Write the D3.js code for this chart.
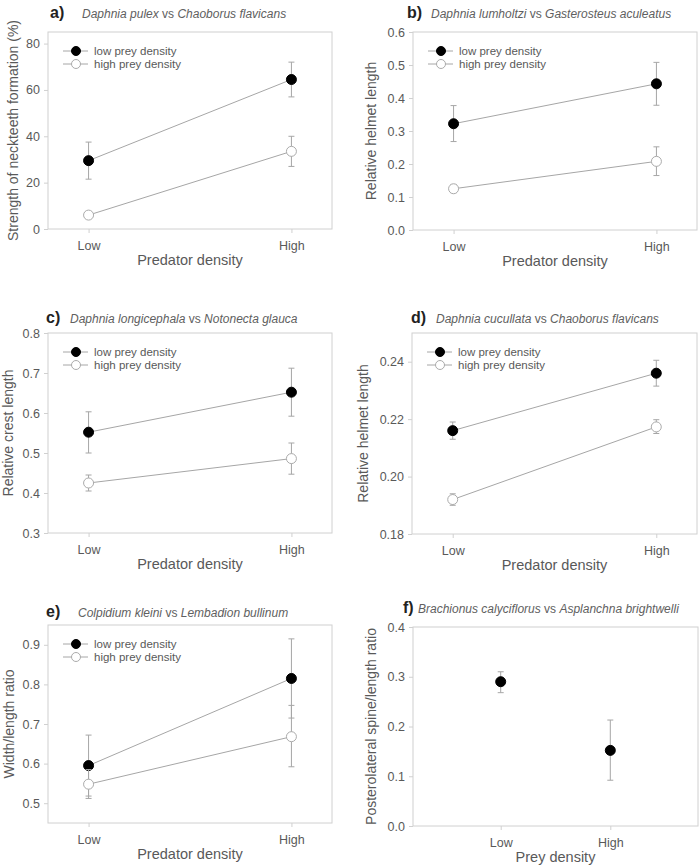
<!DOCTYPE html>
<html>
<head>
<meta charset="utf-8">
<script src="https://cdn.jsdelivr.net/npm/d3@7"></script>
<style>
  body { margin: 0; background: #fff; }
  text { font-family: "Liberation Sans", Arial, sans-serif; }
</style>
</head>
<body>
<script>
// panel data
var panelTags = ["a)", "b)", "c)", "d)", "e)", "f)"];
var preySpecies = ["Daphnia pulex", "Daphnia lumholtzi", "Daphnia longicephala", "Daphnia cucullata", "Colpidium kleini", "Brachionus calyciflorus"];
var predatorSpecies = ["Chaoborus flavicans", "Gasterosteus aculeatus", "Notonecta glauca", "Chaoborus flavicans", "Lembadion bullinum", "Asplanchna brightwelli"];
var yTitles = ["Strength of neckteeth formation (%)", "Relative helmet length", "Relative crest length", "Relative helmet length", "Width/length ratio", "Posterolateral spine/length ratio"];
var xTitles = ["Predator density", "Predator density", "Predator density", "Predator density", "Predator density", "Prey density"];
var categories = ["Low", "High"];
var seriesNames = ["low prey density", "high prey density"];

var lowPreyMean  = [[29.5, 64.5], [0.322, 0.443], [0.552, 0.652], [0.216, 0.236], [0.595, 0.815], [0.290, 0.152]];
var lowPreyLo    = [[21.5, 57.0], [0.268, 0.378], [0.500, 0.592], [0.213, 0.2315], [0.518, 0.715], [0.268, 0.092]];
var lowPreyHi    = [[37.5, 72.0], [0.377, 0.508], [0.603, 0.712], [0.219, 0.2405], [0.672, 0.915], [0.310, 0.213]];
var highPreyMean = [[6.0, 33.5], [0.125, 0.208], [0.425, 0.486], [0.192, 0.2173], [0.548, 0.668], null];
var highPreyLo   = [[5.0, 27.0], [0.113, 0.165], [0.405, 0.447], [0.190, 0.215], [0.512, 0.592], null];
var highPreyHi   = [[7.5, 40.0], [0.138, 0.252], [0.445, 0.525], [0.194, 0.2198], [0.585, 0.747], null];

var yDomains = [[0, 85], [0, 0.6], [0.3, 0.8], [0.18, 0.25], [0.45, 0.95], [0, 0.4]];
var yTicks = [[0, 20, 40, 60, 80], [0, 0.1, 0.2, 0.3, 0.4, 0.5, 0.6], [0.3, 0.4, 0.5, 0.6, 0.7, 0.8],
              [0.18, 0.20, 0.22, 0.24], [0.5, 0.6, 0.7, 0.8, 0.9], [0, 0.1, 0.2, 0.3, 0.4]];
var yTickFormats = ["d", ".1f", ".1f", ".2f", ".1f", ".1f"];

// layout (pixel boxes of the six plot areas)
var boxes = [
  { x: 48,  y: 32,  w: 284, h: 197, yl: 18,  xd: [-0.2, 1.2] },
  { x: 413, y: 32,  w: 284, h: 198, yl: 376, xd: [-0.2, 1.2] },
  { x: 48,  y: 333, w: 284, h: 200, yl: 13,  xd: [-0.2, 1.2] },
  { x: 412, y: 333, w: 285, h: 201, yl: 368, xd: [-0.2, 1.2] },
  { x: 48,  y: 625, w: 284, h: 198, yl: 14,  xd: [-0.2, 1.2] },
  { x: 413, y: 627, w: 285, h: 199, yl: 376, xd: [-0.8, 1.8] }
];
var titlePos = [
  { tx: 50, ty: 18, sx: 82 }, { tx: 407, ty: 18, sx: 431 },
  { tx: 46, ty: 323, sx: 70 }, { tx: 411, ty: 323, sx: 436 },
  { tx: 46, ty: 617, sx: 78 }, { tx: 403, ty: 613, sx: 418 }
];

var txtCol = "#595959", lineCol = "#a6a6a6", boxCol = "#d0d0d0";

var svg = d3.select("body").append("svg")
    .attr("width", 700)
    .attr("height", 867);

boxes.forEach(function(b, i) {
    var x = d3.scaleLinear().domain(b.xd).range([b.x, b.x + b.w]);
    var y = d3.scaleLinear().domain(yDomains[i]).range([b.y + b.h, b.y]);
    var g = svg.append("g");

    g.append("rect")
        .attr("x", b.x).attr("y", b.y)
        .attr("width", b.w).attr("height", b.h)
        .attr("fill", "none").attr("stroke", boxCol);

    // y axis
    var yAxis = g.append("g")
        .attr("transform", "translate(" + b.x + ",0)")
        .call(d3.axisLeft(y).tickValues(yTicks[i]).tickFormat(d3.format(yTickFormats[i])).tickSize(4).tickPadding(4));
    yAxis.select(".domain").remove();
    yAxis.selectAll("line").attr("stroke", boxCol);
    yAxis.selectAll("text").attr("fill", txtCol).style("font-size", "12.5px");

    // x axis
    var xAxis = g.append("g")
        .attr("transform", "translate(0," + (b.y + b.h) + ")")
        .call(d3.axisBottom(x).tickValues([0, 1]).tickFormat(function(d) { return categories[d]; }).tickSize(4).tickPadding(8));
    xAxis.select(".domain").remove();
    xAxis.selectAll("line").attr("stroke", boxCol);
    xAxis.selectAll("text").attr("fill", txtCol).style("font-size", "12.5px");

    // axis titles
    g.append("text")
        .attr("x", x((b.xd[0] + b.xd[1]) / 2))
        .attr("y", b.y + b.h + 36)
        .attr("text-anchor", "middle")
        .attr("fill", txtCol)
        .style("font-size", "14.5px")
        .text(xTitles[i]);
    g.append("text")
        .attr("transform", "translate(" + b.yl + "," + (b.y + b.h / 2) + ") rotate(-90)")
        .attr("text-anchor", "middle")
        .attr("fill", txtCol)
        .style("font-size", "14px")
        .text(yTitles[i]);

    // panel title
    var tp = titlePos[i];
    g.append("text")
        .attr("x", tp.tx).attr("y", tp.ty)
        .attr("fill", "#222")
        .style("font-size", "16px").style("font-weight", "bold")
        .text(panelTags[i]);
    var t = g.append("text")
        .attr("x", tp.sx).attr("y", tp.ty)
        .attr("fill", "#606060")
        .style("font-size", "12px");
    t.append("tspan").style("font-style", "italic").text(preySpecies[i]);
    t.append("tspan").text(" vs ");
    t.append("tspan").style("font-style", "italic").text(predatorSpecies[i]);

    var series = [
        { mean: lowPreyMean[i], lo: lowPreyLo[i], hi: lowPreyHi[i], fill: "#000", stroke: "#000" },
        { mean: highPreyMean[i], lo: highPreyLo[i], hi: highPreyHi[i], fill: "#fff", stroke: "#ababab" }
    ];
    var single = highPreyMean[i] === null;

    // connecting lines (not in panel f)
    if (!single) {
        series.forEach(function(s) {
            g.append("path")
                .datum(s.mean)
                .attr("fill", "none")
                .attr("stroke", lineCol)
                .attr("d", d3.line().x(function(d, k) { return x(k); }).y(function(d) { return y(d); }));
        });
    }

    // error bars and points
    series.forEach(function(s) {
        if (!s.mean) return;
        var pts = s.mean.map(function(m, k) { return { k: k, m: m, lo: s.lo[k], hi: s.hi[k] }; });
        var eb = g.append("g").attr("stroke", lineCol);
        pts.forEach(function(p) {
            eb.append("line").attr("x1", x(p.k)).attr("x2", x(p.k)).attr("y1", y(p.lo)).attr("y2", y(p.hi));
            eb.append("line").attr("x1", x(p.k) - 3).attr("x2", x(p.k) + 3).attr("y1", y(p.lo)).attr("y2", y(p.lo));
            eb.append("line").attr("x1", x(p.k) - 3).attr("x2", x(p.k) + 3).attr("y1", y(p.hi)).attr("y2", y(p.hi));
        });
        g.selectAll(null)
            .data(pts)
            .enter().append("circle")
            .attr("cx", function(d) { return x(d.k); })
            .attr("cy", function(d) { return y(d.m); })
            .attr("r", 5)
            .attr("fill", s.fill)
            .attr("stroke", s.stroke);
    });

    // legend
    if (!single) {
        var lx = b.x + 28;
        series.forEach(function(s, k) {
            var ly = b.y + 19 + k * 13;
            g.append("line").attr("x1", lx - 13).attr("x2", lx + 12).attr("y1", ly).attr("y2", ly).attr("stroke", lineCol);
            g.append("circle").attr("cx", lx).attr("cy", ly).attr("r", 4.5).attr("fill", s.fill).attr("stroke", s.stroke);
            g.append("text")
                .attr("x", lx + 18).attr("y", ly + 4)
                .attr("fill", txtCol)
                .style("font-size", "11.5px")
                .text(seriesNames[k]);
        });
    }
});
</script>
</body>
</html>
